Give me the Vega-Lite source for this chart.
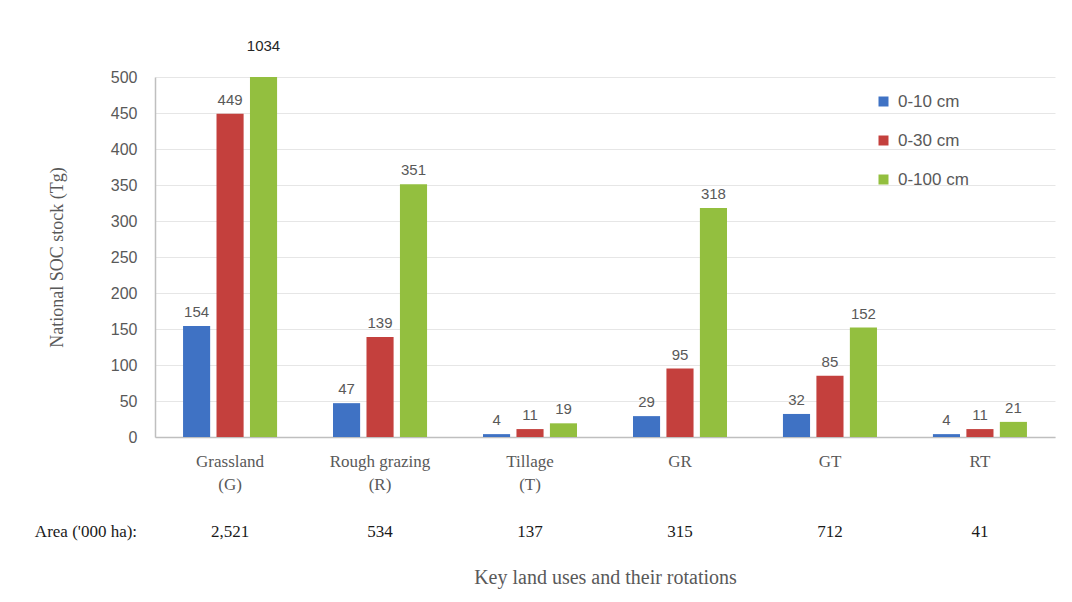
{
  "$schema": "https://vega.github.io/schema/vega-lite/v6.json",
  "width": 900,
  "height": 360,
  "autosize": {"type": "none"},
  "padding": {"left": 155, "top": 77, "right": 17, "bottom": 165},
  "background": "white",
  "config": {
    "view": {"stroke": null},
    "font": "Liberation Serif",
    "axisY": {
      "tickCount": 10,
      "labelOverlap": false,
      "labelFont": "Liberation Sans",
      "labelFontSize": 16,
      "labelColor": "#595959",
      "labelPadding": 18,
      "ticks": false,
      "domainColor": "#bfbfbf",
      "domainWidth": 1.5,
      "gridColor": "#e6e6e6",
      "titleFont": "Liberation Serif",
      "titleFontSize": 18,
      "titleFontWeight": "normal",
      "titleColor": "#595959",
      "titlePadding": 44
    }
  },
  "datasets": {
    "stocks": [
      {"use": "Grassland|(G)", "depth": "0-10 cm", "stock": 154},
      {"use": "Grassland|(G)", "depth": "0-30 cm", "stock": 449},
      {"use": "Grassland|(G)", "depth": "0-100 cm", "stock": 1034},
      {"use": "Rough grazing|(R)", "depth": "0-10 cm", "stock": 47},
      {"use": "Rough grazing|(R)", "depth": "0-30 cm", "stock": 139},
      {"use": "Rough grazing|(R)", "depth": "0-100 cm", "stock": 351},
      {"use": "Tillage|(T)", "depth": "0-10 cm", "stock": 4},
      {"use": "Tillage|(T)", "depth": "0-30 cm", "stock": 11},
      {"use": "Tillage|(T)", "depth": "0-100 cm", "stock": 19},
      {"use": "GR", "depth": "0-10 cm", "stock": 29},
      {"use": "GR", "depth": "0-30 cm", "stock": 95},
      {"use": "GR", "depth": "0-100 cm", "stock": 318},
      {"use": "GT", "depth": "0-10 cm", "stock": 32},
      {"use": "GT", "depth": "0-30 cm", "stock": 85},
      {"use": "GT", "depth": "0-100 cm", "stock": 152},
      {"use": "RT", "depth": "0-10 cm", "stock": 4},
      {"use": "RT", "depth": "0-30 cm", "stock": 11},
      {"use": "RT", "depth": "0-100 cm", "stock": 21}
    ],
    "areas": [
      {"use": "Grassland|(G)", "area": "2,521"},
      {"use": "Rough grazing|(R)", "area": "534"},
      {"use": "Tillage|(T)", "area": "137"},
      {"use": "GR", "area": "315"},
      {"use": "GT", "area": "712"},
      {"use": "RT", "area": "41"}
    ]
  },
  "encoding": {
    "x": {
      "field": "use",
      "type": "nominal",
      "sort": ["Grassland|(G)", "Rough grazing|(R)", "Tillage|(T)", "GR", "GT", "RT"],
      "scale": {"paddingInner": 0.373, "paddingOuter": 0.187},
      "axis": {
        "labelExpr": "split(datum.label, '|')",
        "labelAngle": 0,
        "labelFont": "Liberation Serif",
        "labelFontSize": 17,
        "labelLineHeight": 23,
        "labelColor": "#595959",
        "labelPadding": 16,
        "labelBaseline": "top",
        "ticks": false,
        "domainColor": "#bfbfbf",
        "domainWidth": 1.5,
        "title": "Key land uses and their rotations",
        "titleFont": "Liberation Serif",
        "titleFontSize": 20,
        "titleFontWeight": "normal",
        "titleColor": "#595959",
        "titlePadding": 75
      }
    }
  },
  "layer": [
    {
      "data": {"name": "stocks"},
      "mark": {"type": "bar"},
      "encoding": {
        "y": {
          "field": "stock",
          "type": "quantitative",
          "scale": {"domain": [0, 500], "nice": false, "clamp": true},
          "axis": {"title": "National SOC stock (Tg)"}
        },
        "xOffset": {
          "field": "depth",
          "type": "nominal",
          "sort": ["0-10 cm", "0-30 cm", "0-100 cm"],
          "scale": {"paddingInner": 0.19}
        },
        "color": {
          "field": "depth",
          "type": "nominal",
          "sort": ["0-10 cm", "0-30 cm", "0-100 cm"],
          "scale": {"domain": ["0-10 cm", "0-30 cm", "0-100 cm"], "range": ["#3f72c4", "#c4403d", "#93bf3f"]},
          "legend": {
            "title": null,
            "orient": "none",
            "legendX": 720,
            "legendY": 16,
            "symbolType": "square",
            "symbolSize": 100,
            "symbolStrokeWidth": 0,
            "labelFont": "Liberation Sans",
            "labelFontSize": 17,
            "labelColor": "#595959",
            "rowPadding": 21,
            "labelOffset": 6
          }
        }
      }
    },
    {
      "data": {"name": "stocks"},
      "transform": [{"filter": "datum.stock <= 500"}],
      "mark": {"type": "text", "baseline": "alphabetic", "dy": -9, "font": "Liberation Sans", "fontSize": 15, "color": "#595959"},
      "encoding": {
        "y": {"field": "stock", "type": "quantitative"},
        "xOffset": {"field": "depth", "type": "nominal", "sort": ["0-10 cm", "0-30 cm", "0-100 cm"]},
        "text": {"field": "stock", "type": "quantitative"}
      }
    },
    {
      "data": {"name": "stocks"},
      "transform": [{"filter": "datum.stock > 500"}],
      "mark": {"type": "text", "baseline": "alphabetic", "dy": -26, "font": "Liberation Sans", "fontSize": 15, "color": "#262626"},
      "encoding": {
        "y": {"field": "stock", "type": "quantitative"},
        "xOffset": {"field": "depth", "type": "nominal", "sort": ["0-10 cm", "0-30 cm", "0-100 cm"]},
        "text": {"field": "stock", "type": "quantitative"}
      }
    },
    {
      "data": {"name": "areas"},
      "mark": {"type": "text", "baseline": "alphabetic", "dy": 100, "font": "Liberation Serif", "fontSize": 17, "color": "#1a1a1a"},
      "encoding": {
        "y": {"datum": 0, "type": "quantitative"},
        "text": {"field": "area", "type": "nominal"}
      }
    },
    {
      "data": {"values": [{"t": "Area ('000 ha):"}]},
      "mark": {"type": "text", "baseline": "alphabetic", "align": "right", "dy": 100, "dx": -93, "font": "Liberation Serif", "fontSize": 17, "color": "#1a1a1a"},
      "encoding": {
        "x": {"datum": "Grassland|(G)"},
        "y": {"datum": 0, "type": "quantitative"},
        "text": {"field": "t", "type": "nominal"}
      }
    }
  ]
}
